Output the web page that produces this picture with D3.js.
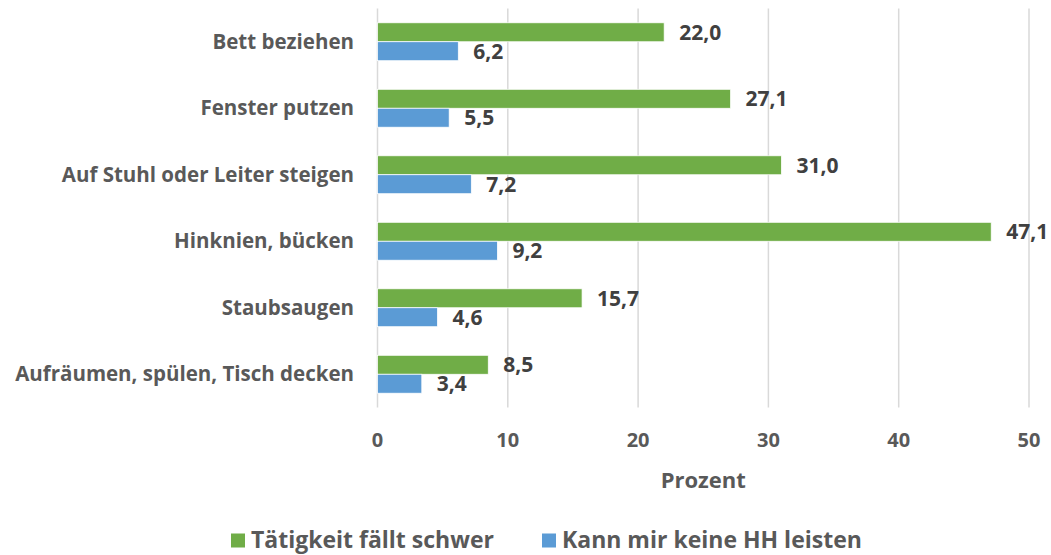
<!DOCTYPE html>
<html>
<head>
<meta charset="utf-8">
<script src="https://cdn.jsdelivr.net/npm/d3@7"></script>
<style>
	body { margin: 0; background: #fff; }
	text { font-family: "Open Sans", sans-serif; font-weight: 700; fill: #595959; }
	text.value { fill: #404040; }
</style>
</head>
<body>
<svg id="chart" width="1051" height="555"></svg>
<script>
const categories = [
	"Bett beziehen",
	"Fenster putzen",
	"Auf Stuhl oder Leiter steigen",
	"Hinknien, bücken",
	"Staubsaugen",
	"Aufräumen, spülen, Tisch decken"
];
const seriesNames = ["Tätigkeit fällt schwer", "Kann mir keine HH leisten"];
const schwerValues = [22.0, 27.1, 31.0, 47.1, 15.7, 8.5];
const leistenValues = [6.2, 5.5, 7.2, 9.2, 4.6, 3.4];
const xTicks = [0, 10, 20, 30, 40, 50];
const colors = ["#70AD47", "#5B9BD5"];

const svg = d3.select("#chart");
const margin = { left: 377.5, right: 22, top: 8.5, bottom: 147.5 };
const width = 1051, height = 555;

const x = d3.scaleLinear().domain([0, 50]).range([margin.left, width - margin.right]);
const y = d3.scaleBand().domain(categories).range([margin.top, height - margin.bottom]).paddingInner(0.43).paddingOuter(0.215);
const ySeries = d3.scaleBand().domain([0, 1]).range([0, y.bandwidth()]);

// Gridlines
svg.append("g")
	.selectAll("line")
	.data(xTicks)
	.join("line")
	.attr("x1", d => x(d)).attr("x2", d => x(d))
	.attr("y1", margin.top).attr("y2", height - margin.bottom)
	.attr("stroke", "#d9d9d9")
	.attr("stroke-width", 1.5);

// Tick labels
svg.append("g")
	.selectAll("text")
	.data(xTicks)
	.join("text")
	.attr("x", d => x(d))
	.attr("y", 440)
	.attr("dy", "0.35em")
	.attr("text-anchor", "middle")
	.style("font-size", "20px")
	.text(d => d);

// Axis title
svg.append("text")
	.attr("x", (x(0) + x(50)) / 2)
	.attr("y", 480)
	.attr("dy", "0.35em")
	.attr("text-anchor", "middle")
	.style("font-size", "22px")
	.text("Prozent");

// Category labels
svg.append("g")
	.selectAll("text")
	.data(categories)
	.join("text")
	.attr("x", 354)
	.attr("y", d => y(d) + y.bandwidth() / 2)
	.attr("dy", "0.35em")
	.attr("text-anchor", "end")
	.style("font-size", "20.5px")
	.text(d => d);

// Bars
const seriesData = [schwerValues, leistenValues];
seriesData.forEach((values, s) => {
	const rows = categories.map((c, i) => ({ category: c, value: values[i] }));
	const g = svg.append("g");
	g.selectAll("rect")
		.data(rows)
		.join("rect")
		.attr("x", x(0))
		.attr("y", d => y(d.category) + ySeries(s))
		.attr("width", d => x(d.value) - x(0))
		.attr("height", ySeries.bandwidth())
		.attr("fill", colors[s])
		.attr("stroke", "#ffffff")
		.attr("stroke-width", 0.75);
	g.selectAll("text")
		.data(rows)
		.join("text")
		.attr("class", "value")
		.attr("x", d => x(d.value) + 15)
		.attr("y", d => y(d.category) + ySeries(s) + ySeries.bandwidth() / 2)
		.attr("dy", "0.35em")
		.style("font-size", "21px")
		.text(d => d3.format(".1f")(d.value).replace(".", ","));
});

// Legend
const legendX = [231, 542];
const legend = svg.append("g");
seriesNames.forEach((name, s) => {
	legend.append("rect")
		.attr("x", legendX[s]).attr("y", 533.5)
		.attr("width", 14).attr("height", 14)
		.attr("fill", colors[s]);
	legend.append("text")
		.attr("x", legendX[s] + 20).attr("y", 540)
		.attr("dy", "0.35em")
		.style("font-size", "23px")
		.text(name);
});
</script>
</body>
</html>
